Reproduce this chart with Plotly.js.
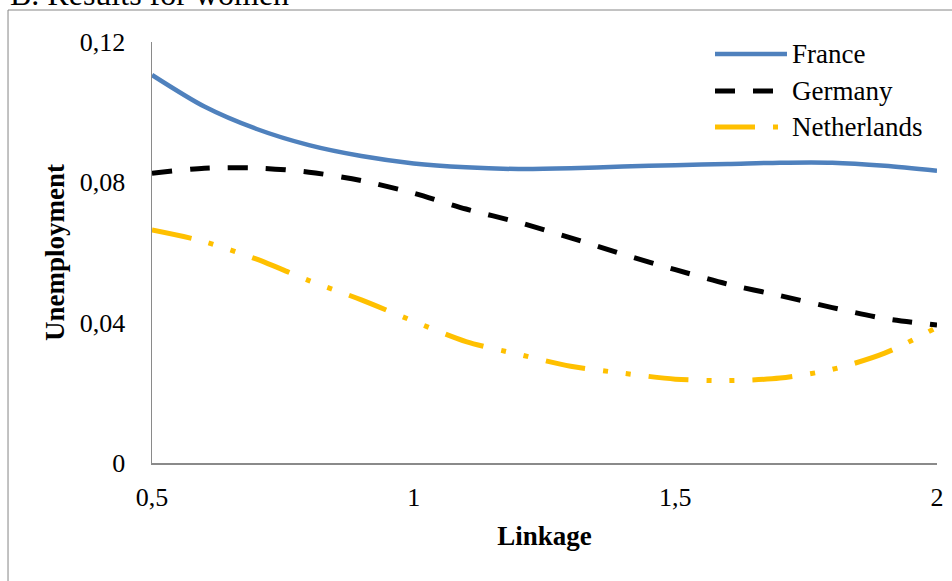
<!DOCTYPE html>
<html>
<head>
<meta charset="utf-8">
<script src="https://cdn.plot.ly/plotly-3.0.1.min.js"></script>
<style>
  html, body { margin: 0; padding: 0; background: #fff; }
  #chart { width: 952px; height: 581px; }
</style>
</head>
<body>
<div id="chart"></div>
<script>
// ---- data ----
const linkage = [0.5, 0.6, 0.7, 0.8, 0.9, 1.0, 1.1, 1.2, 1.3, 1.4, 1.5, 1.6, 1.7, 1.8, 1.9, 2.0];
const france = [0.1106, 0.1016, 0.0952, 0.0906, 0.0875, 0.0854, 0.0843, 0.0838, 0.0840, 0.0845, 0.0849, 0.0852, 0.0856, 0.0856, 0.0847, 0.0833];
const germany = [0.0826, 0.0840, 0.0841, 0.0829, 0.0805, 0.0769, 0.0724, 0.0686, 0.0642, 0.0595, 0.0551, 0.0510, 0.0477, 0.0443, 0.0412, 0.0393];
const netherlands = [0.0664, 0.0631, 0.0581, 0.0520, 0.0465, 0.0404, 0.0346, 0.0310, 0.0276, 0.0256, 0.0239, 0.0235, 0.0242, 0.0267, 0.0313, 0.0387];
const seriesNames = ['France', 'Germany', 'Netherlands'];
const xTickVals = [0.5, 1, 1.5, 2];
const xTickText = ['0,5', '1', '1,5', '2'];
const yTickVals = [0, 0.04, 0.08, 0.12];
const yTickText = ['0', '0,04', '0,08', '0,12'];
const chartTitle = 'B. Results for women';
const xTitle = 'Linkage';
const yTitle = 'Unemployment';

// ---- styles ----
const FONT = 'Liberation Serif, Times New Roman, serif';
const styles = [
  { color: '#4F81BD', width: 4.5, dash: 'solid' },
  { color: '#000000', width: 5, dash: '20px,18px' },
  { color: '#FFC000', width: 5, dash: '40px,18px,5px,18px,5px,18px' }
];
const values = [france, germany, netherlands];

const traces = values.map((ys, i) => ({
  type: 'scatter',
  mode: 'lines',
  name: seriesNames[i],
  x: linkage,
  y: ys,
  line: { color: styles[i].color, width: styles[i].width, dash: styles[i].dash, shape: 'spline', smoothing: 0.8 },
  showlegend: false,
  hoverinfo: 'skip'
}));

// custom legend (long line samples like the original)
const legendY = [0.9715, 0.8836, 0.7981];
const shapes = [
  // chart-area frame
  { type: 'rect', xref: 'paper', yref: 'paper', x0: -0.1834, x1: 1.2, y0: -0.6, y1: 1.076,
    line: { color: '#868686', width: 1 }, fillcolor: 'rgba(0,0,0,0)', layer: 'below' }
];
const annotations = [];
seriesNames.forEach((nm, i) => {
  shapes.push({ type: 'line', xref: 'paper', yref: 'paper', x0: 0.7172, x1: 0.8089, y0: legendY[i], y1: legendY[i],
    line: { color: styles[i].color, width: styles[i].width, dash: styles[i].dash } });
  annotations.push({ xref: 'paper', yref: 'paper', x: 0.8128, y: legendY[i], xanchor: 'left', yanchor: 'middle',
    text: nm, showarrow: false, font: { family: FONT, size: 27, color: '#000' } });
});

const layout = {
  width: 952, height: 581,
  margin: { l: 152, r: 15, t: 42, b: 118, pad: 0 },
  paper_bgcolor: '#ffffff', plot_bgcolor: 'rgba(0,0,0,0)',
  font: { family: FONT, size: 26, color: '#000' },
  title: { text: chartTitle, font: { family: FONT, size: 32, color: '#000' },
    xref: 'container', yref: 'container', x: 10 / 952, xanchor: 'left', y: 1 - 5 / 581, yanchor: 'bottom', pad: { t: 0, b: 0, l: 0, r: 0 } },
  xaxis: {
    range: [0.5, 2], tickvals: xTickVals, ticktext: xTickText,
    showline: true, linecolor: '#8a8a8a', linewidth: 1.5, ticks: '', showgrid: false, zeroline: false,
    ticklabelstandoff: 10, tickfont: { family: FONT, size: 26 },
    title: { text: '<b>' + xTitle + '</b>', font: { family: FONT, size: 27 }, standoff: 15 },
    automargin: false, fixedrange: true
  },
  yaxis: {
    range: [0, 0.12], tickvals: yTickVals, ticktext: yTickText,
    showline: true, linecolor: '#8a8a8a', linewidth: 1.5, ticks: '', showgrid: false, zeroline: false,
    ticklabelstandoff: 20, tickfont: { family: FONT, size: 26 },
    title: { text: '<b>' + yTitle + '</b>', font: { family: FONT, size: 27 }, standoff: 7 },
    automargin: false, fixedrange: true
  },
  shapes: shapes,
  annotations: annotations,
  showlegend: false
};

Plotly.newPlot('chart', traces, layout, { displayModeBar: false, staticPlot: true });
</script>
</body>
</html>
